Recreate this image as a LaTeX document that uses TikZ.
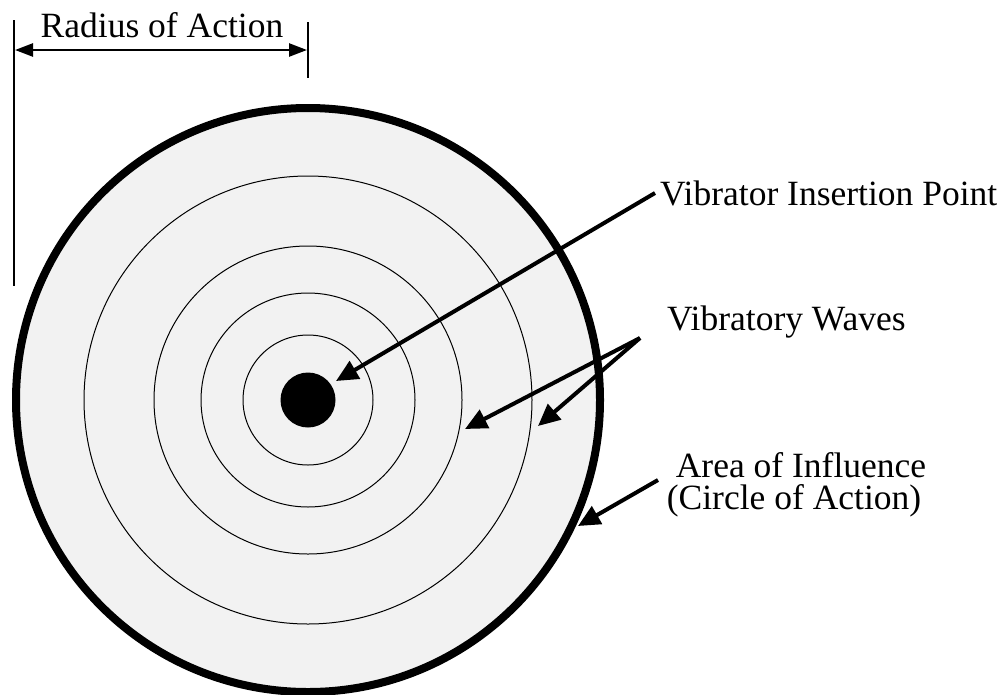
\documentclass[tikz,border=0pt]{standalone}
\usepackage{fontspec}
\setmainfont{Liberation Serif}
\usetikzlibrary{arrows.meta}
\definecolor{areagray}{HTML}{F2F2F2}
\begin{document}
\begin{tikzpicture}[x=1pt,y=-1pt,
	every node/.style={inner sep=0,font=\fontsize{35.5}{32}\selectfont},
	wave/.style={draw,line width=1pt},
	pointer/.style={line width=4pt,-{Triangle[length=22pt,width=20pt]}}]
\useasboundingbox (0,0) rectangle (1003,694);
\coordinate (c) at (308,400);
% area of influence
\fill[areagray] (c) circle (292);
\foreach \r in {65,107,154,224}
	\draw[wave] (c) circle (\r);
\draw[line width=8pt] (c) circle (292);
\node[circle,fill,minimum size=55pt] (dot) at (c) {};
% radius of action
\draw[line width=1.8pt] (14,20) -- (14,286);
\draw[line width=1.8pt] (308,22) -- (308,78);
\draw[line width=2.5pt,{Triangle[length=18pt,width=13pt]}-{Triangle[length=18pt,width=13pt]}] (15,50) -- (307,50);
\node (radius) at (162,25) {Radius of Action};
% labels
\node[anchor=west] (insert) at (660,193) {Vibrator Insertion Point};
\node[anchor=west] (waves) at (667,322) {Vibratory Waves};
\node[align=center] (area) at (794,485) {\hspace*{14pt}Area of Influence\\(Circle of Action)};
\coordinate (w1) at (465,429);
\coordinate (w2) at (538,426);
\coordinate (a1) at (578,526);
\draw[pointer] (655,193) -- (336,381);
\draw[pointer] (640,338) -- (w1);
\draw[pointer] (640,338) -- (w2);
\draw[pointer] (658,480) -- (a1);
\end{tikzpicture}
\end{document}
